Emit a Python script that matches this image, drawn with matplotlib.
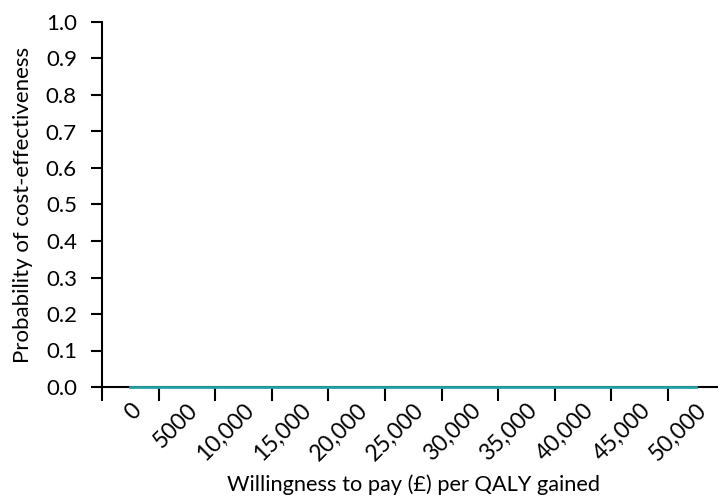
#!/usr/bin/env python
"""
Cost-effectiveness acceptability curve (flat at zero)
"""

import matplotlib.pyplot as plt

# willingness-to-pay thresholds and probability of cost-effectiveness
WTP_LABELS = ["0", "5000", "10,000", "15,000", "20,000", "25,000",
              "30,000", "35,000", "40,000", "45,000", "50,000"]
PROB = [0.0, 0.0, 0.0, 0.0, 0.0, 0.0, 0.0, 0.0, 0.0, 0.0, 0.0]
Y_TICKS = [0.0, 0.1, 0.2, 0.3, 0.4, 0.5, 0.6, 0.7, 0.8, 0.9, 1.0]

FS = 16
plt.rcParams['font.family'] = ['Lato', 'DejaVu Sans']

fig = plt.figure(figsize=(7.18, 4.98), dpi=100)
ax = fig.add_axes([102 / 718, 111 / 498, (724.5 - 102) / 718, 365 / 498])

x = list(range(len(WTP_LABELS)))
ax.plot(x, PROB, color='#22a3a8', linewidth=2, zorder=3, clip_on=False)

ax.set_xlim(-0.5, len(WTP_LABELS) - 0.5)
ax.set_ylim(0, 1)

# ticks sit between the categories, labels at the centres
ax.set_xticks([i - 0.5 for i in range(len(WTP_LABELS) + 1)])
ax.set_xticklabels([])
ax.set_xticks(x, minor=True)
ax.set_xticklabels(WTP_LABELS, minor=True, rotation=45, ha='right',
                   rotation_mode='anchor', fontsize=16.5)
ax.tick_params(axis='x', which='minor', length=0, pad=9)
ax.tick_params(axis='x', which='major', length=10, width=1.5)

ax.set_yticks(Y_TICKS)
ax.set_yticklabels(["%.1f" % t for t in Y_TICKS], fontsize=FS)
ax.tick_params(axis='y', length=8, width=1.5, pad=10)

for side in ['top', 'right']:
    ax.spines[side].set_visible(False)
for side in ['left', 'bottom']:
    ax.spines[side].set_linewidth(1.5)

ax.set_xlabel('Willingness to pay (£) per QALY gained', fontsize=15.7, labelpad=7)
ax.set_ylabel('Probability of cost-effectiveness', fontsize=FS, labelpad=9)

fig.savefig('out.png', dpi=100)
